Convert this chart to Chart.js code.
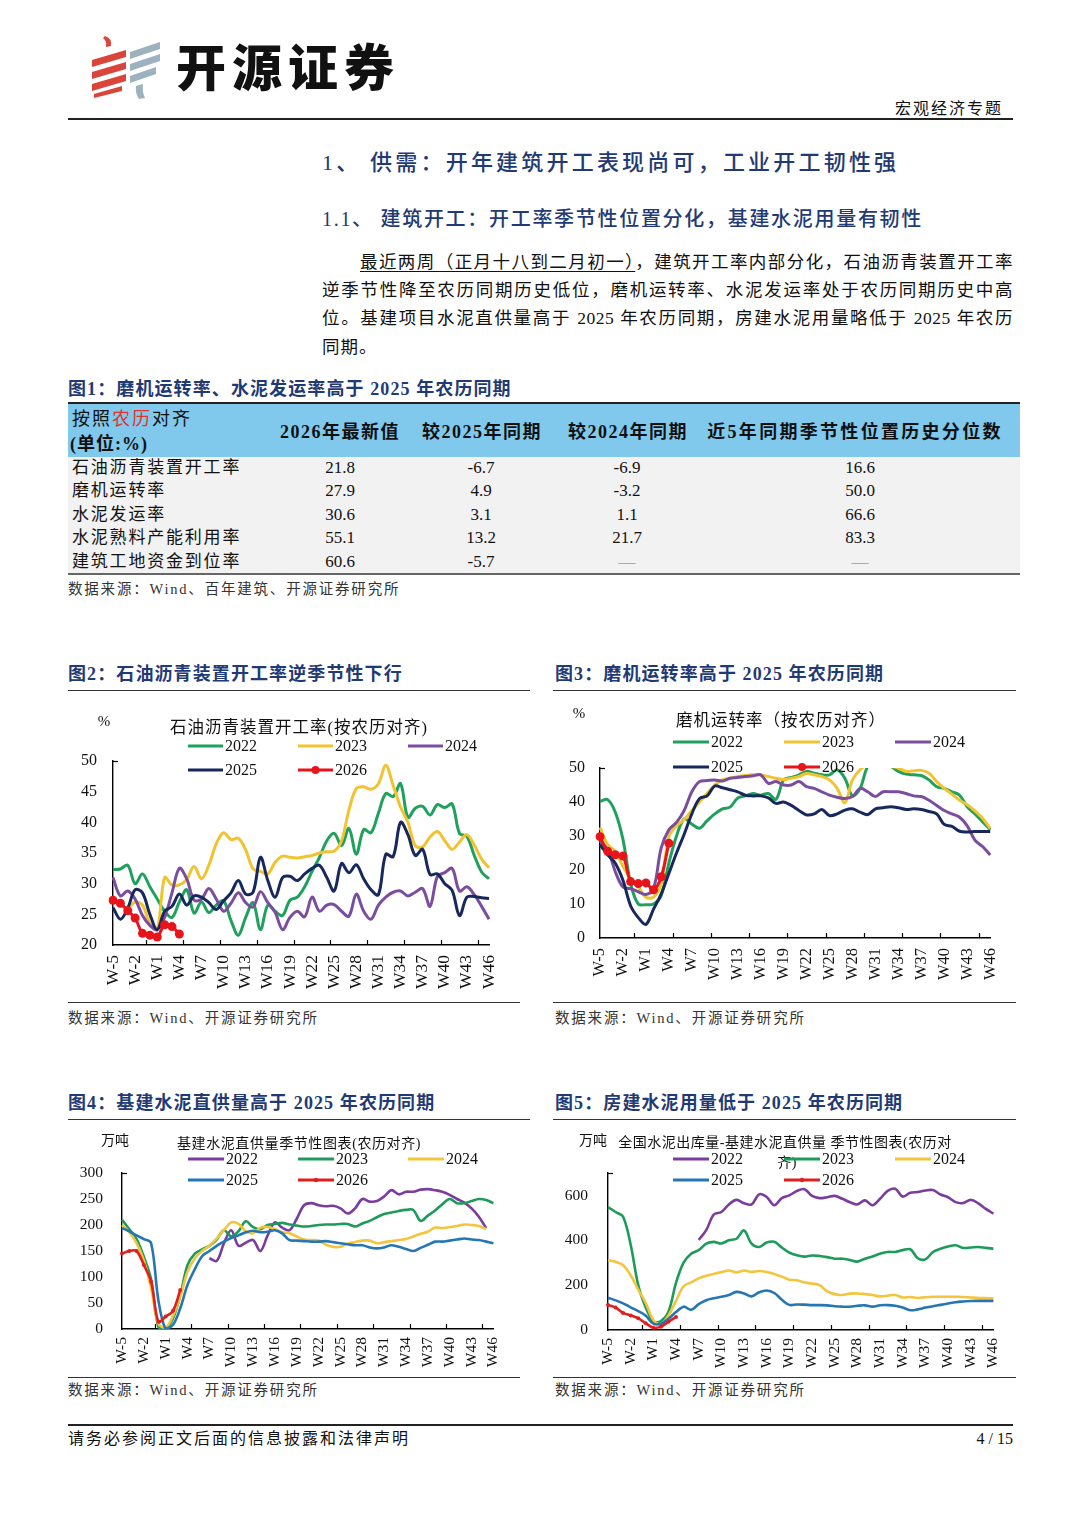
<!DOCTYPE html>
<html lang="zh-CN">
<head>
<meta charset="utf-8">
<title>开源证券 宏观经济专题</title>
<script src="https://cdn.jsdelivr.net/npm/chart.js@4.4.1/dist/chart.umd.min.js"></script>
<style>
html,body{margin:0;padding:0;background:#fff}
body{width:1080px;height:1527px;position:relative;overflow:hidden;font-family:"Liberation Serif","Noto Sans CJK SC",serif;color:#111}
.a{position:absolute;white-space:nowrap}
.figt{position:absolute;white-space:nowrap;font-size:18px;font-weight:bold;letter-spacing:1.1px;color:#1f3a75;line-height:24px}
.rule{position:absolute;height:1.5px;background:#333}
.src{position:absolute;white-space:nowrap;font-size:14.5px;letter-spacing:1.8px;color:#333;line-height:20px}
.para{position:absolute;left:322px;width:691px;font-size:17.5px;line-height:28px;text-align:justify;text-align-last:justify;white-space:nowrap;letter-spacing:0.5px}
.th{position:absolute;white-space:nowrap;font-size:18px;font-weight:bold;line-height:24px;letter-spacing:1.5px;transform:translateX(-50%)}
.tl{position:absolute;white-space:nowrap;font-size:17px;line-height:23px;letter-spacing:1.8px;left:72px}
.tv{position:absolute;white-space:nowrap;font-size:17px;line-height:23px;transform:translateX(-50%)}
.box{position:absolute}
</style>
</head>
<body>
<script>
// ---------------- DATA ----------------
const weeks = ['W-5','W-4','W-3','W-2','W-1','W0','W1','W2','W3','W4','W5','W6','W7','W8','W9','W10','W11','W12','W13','W14','W15','W16','W17','W18','W19','W20','W21','W22','W23','W24','W25','W26','W27','W28','W29','W30','W31','W32','W33','W34','W35','W36','W37','W38','W39','W40','W41','W42','W43','W44','W45','W46'];
const years = ['2022','2023','2024','2025','2026'];

// 图2 石油沥青装置开工率 (%)
const asph2022 = [32.3,32.4,33,30,31.6,29.5,27.5,25.5,24.5,27,29,25.2,27,25.3,26.5,27.2,24,21.6,24.5,26.9,22.5,26.5,25.5,24.8,27.3,27.8,29.5,32,34.3,37,38.2,36.2,39,34.8,38.8,38.3,41.5,44.7,44.2,46.3,40.8,42.3,42.6,41.2,42.9,42.4,43,38.2,37.7,34.6,31.9,30.8];
const asph2023 = [27.5,26.5,26,27,26.5,23.5,22.5,31,29.8,29.8,30.7,32.8,30.8,33,36.5,38.3,37.2,37.4,35.5,32.4,32,31.6,33.5,34.5,34.3,34.2,34.4,34.6,35,35.2,35.3,37,42,45.5,45.8,45.4,46.3,49.3,46,42.5,40,36.2,36,37.6,38.5,37,35.6,36.8,38,36.3,34,32.6];
const asph2024 = [31,28,28.8,27.5,24.8,23.2,22.5,24.5,28.5,32.5,30.8,27.3,27.5,29.2,27.5,25.5,26.8,28.5,26.9,26.2,28.7,26.9,25.3,22.5,24.5,25.5,24.6,27.8,25.5,26.5,26.6,25.5,24.7,28.3,25.5,24.2,26.5,27.8,28.6,28.8,28,28.6,29.2,26.3,31.2,31.8,32.5,28.8,29.5,28.2,26.3,24.2];
const asph2025 = [26.1,24.2,26,29,28.5,25,22.5,25.5,26.3,28.3,26.5,28,27.8,26.9,25.8,27.2,28.5,30.5,28.3,28.6,34.3,30.5,27.8,31,31.2,30.5,31.6,32.5,33,31,28.8,33.3,31.8,33.1,30.8,29,28.2,34.8,34.4,40,38,34.6,35.6,31.5,31.6,30,28.9,24.8,27.8,27.9,27.7,27.6];
const asph2026 = [27.3,26.8,25.6,24.4,21.9,21.6,21.3,23.3,23.0,21.8];

// 图3 磨机运转率 (%)
const mill2022 = [40.2,40.7,37,29,16,10,9.8,10,12.5,22,30,35,33.5,32.3,34.5,36.5,38,38.5,41.2,41.8,42.5,42,42.5,40.8,46.5,47.2,48,49,48.5,48,48,49.5,47,41.8,44,50.5,51.5,51,50.5,49,48.2,48,47.8,46.5,44.5,44,43,42,38.6,36.5,34.2,31.8];
const mill2023 = [32.5,27.5,25.5,21,17.5,15,12,12,16,29.8,33,34.8,37.5,40,42.5,45,46.5,47,47.5,47.8,48,48,47.5,47,46.6,47,47.5,48.4,48,47.5,46.5,44,39.8,46.5,49.5,51,51.5,51,50.5,50,49,49.2,49.3,48.5,46,44,42.3,40.5,39.2,37.4,35.2,32.2];
const mill2024 = [28.5,26,19.5,15,14.5,13.6,12.8,14.5,26.5,31.8,34,37.5,43,46,46.3,46.5,46.2,47,47.2,47.5,47.7,48,45.5,46,45,45,46,44.5,44,43,42,41.4,41,41.6,44,43,41.6,43,43,43,42.5,41.8,41.6,40.5,39,37.5,36.5,35.5,33,28.8,26.9,24.4];
const mill2025 = [27.5,24.5,22,17,9.5,6,4,8.5,13,19,25,30.5,36.5,41,41.8,44.7,44.2,43.6,43,42,41.8,41.8,41.2,39.6,40,39,37.5,36.2,36.5,37.8,36,36.5,37.6,38,37,36.3,38,38.3,38.6,38.3,37.8,38,37.8,37.2,36.5,33.4,32.8,31.4,31.2,31.3,31.3,31.3];
const mill2026 = [29.8,25.5,24.5,24.1,16.6,16,16.2,14.2,18,27.9];

// 图4 基建水泥直供量 (万吨)
const infra2022 = [null,null,null,null,null,null,null,null,null,null,null,null,136,131,165,190,160,166,171,150,180,205,195,190,212,238,242,238,236,237,232,222,232,250,245,246,255,267,259,264,264,268,269,267,264,258,250,243,232,216,194,null];
const infra2023 = [210,192,173,139,95,4,1,20,65,123,145,153,160,172,190,178,188,207,196,192,200,202,204,201,199,197,198,200,201,201,202,202,197,203,208,215,221,224,227,229,229,208,218,228,240,250,242,242,246,250,248,242];
const infra2024 = [200,186,165,132,78,10,3,25,62,110,136,150,160,174,190,205,202,188,184,195,196,192,186,184,178,172,171,170,162,158,158,164,167,170,170,165,167,169,171,173,178,183,187,195,194,196,198,201,200,198,192,null];
const infra2025 = [194,188,180,173,165,55,0,8,40,85,115,140,150,160,168,175,180,186,189,186,187,190,184,171,170,169,168,168,169,167,165,163,161,161,157,155,157,161,158,154,150,156,162,168,168,170,172,174,172,171,168,165];
const infra2026 = [145,150,150,123,91,14,24,35,75];

// 图5 房建水泥用量 (万吨)
const house2022 = [null,null,null,null,null,null,null,null,null,null,null,null,402,445,515,526,560,580,565,560,605,593,556,588,600,620,628,598,588,592,598,585,570,560,578,556,585,620,630,595,612,615,622,624,604,592,570,566,580,565,540,519];
const house2023 = [548,526,505,380,200,100,38,40,81,210,300,340,356,385,393,386,400,407,444,385,370,390,393,368,345,333,327,332,330,325,318,318,312,305,318,328,340,348,348,356,360,320,315,348,362,372,378,366,368,370,366,363];
const house2024 = [311,304,289,244,180,120,45,25,65,130,195,212,230,242,250,258,265,257,265,259,263,259,250,238,224,222,212,207,200,172,160,156,162,163,160,156,150,153,156,145,147,143,146,148,148,148,148,147,145,143,142,141];
const house2025 = [144,132,119,101,84,64,28,28,50,80,104,90,115,133,142,148,156,170,163,150,168,176,165,135,112,114,113,111,111,110,106,104,104,108,110,104,110,111,108,100,88,92,100,106,112,118,124,127,129,130,130,130];
const house2026 = [111,100,76,65,52,30,10,15,37,58];

// ---------------- CHARTS ----------------
const SERIF = '"Liberation Serif", "Noto Sans CJK SC", serif';
Chart.defaults.font.family = SERIF;
Chart.defaults.color = '#111';

const decoPlugin = {
  id: 'deco',
  afterDraw(chart, args, o) {
    const ctx = chart.ctx;
    const xs = chart.scales.x, ys = chart.scales.y;
    ctx.save();
    // small inside tick marks on the category axis
    ctx.strokeStyle = '#000'; ctx.lineWidth = 1.2;
    for (let v = o.tickStart; v < weeks.length - 1; v += o.tickStep) {
      const px = Math.round(xs.getPixelForValue(v)) + 0.5;
      ctx.beginPath(); ctx.moveTo(px, ys.bottom); ctx.lineTo(px, ys.bottom - 5); ctx.stroke();
    }
    // cap tick at top of value axis
    ctx.beginPath(); ctx.moveTo(xs.left, ys.top + 0.5); ctx.lineTo(xs.left + 5, ys.top + 0.5); ctx.stroke();
    // unit
    ctx.fillStyle = '#111'; ctx.textAlign = 'center'; ctx.textBaseline = 'middle';
    ctx.font = o.unit.font; ctx.fillText(o.unit.text, o.unit.x, o.unit.y);
    // title
    ctx.font = o.title.font;
    try { ctx.letterSpacing = o.title.ls || '0px'; } catch (e) {}
    o.title.lines.forEach(l => ctx.fillText(l.text, l.x, l.y));
    try { ctx.letterSpacing = '0px'; } catch (e) {}
    // legend (3 per row)
    const L = o.legend;
    chart.data.datasets.forEach((ds, i) => {
      const col = i % 3, row = Math.floor(i / 3);
      const x = L.x + col * L.colW, y = L.y + row * L.rowH;
      ctx.strokeStyle = ds.borderColor; ctx.lineWidth = L.lw;
      ctx.beginPath(); ctx.moveTo(x, y); ctx.lineTo(x + L.len, y); ctx.stroke();
      if (ds.pointRadius > 0) {
        ctx.fillStyle = ds.borderColor; ctx.beginPath();
        ctx.arc(x + L.len / 2, y, L.dot, 0, Math.PI * 2); ctx.fill();
      }
      ctx.fillStyle = '#111'; ctx.font = L.font; ctx.textAlign = 'left'; ctx.textBaseline = 'middle';
      ctx.fillText(ds.label, x + L.len + 2, y + 1);
    });
    ctx.restore();
  }
};

function seasonal(id, c) {
  const datasets = c.series.map((s, i) => ({
    label: years[i], data: s,
    borderColor: c.colors[i], backgroundColor: c.colors[i],
    borderWidth: c.lw, pointRadius: i === 4 ? c.dot : 0, pointHoverRadius: 0,
    pointBorderWidth: 0, pointStyle: 'circle',
    tension: 0.35, fill: false, order: 4 - i
  }));
  return new Chart(document.getElementById(id), {
    type: 'line',
    data: { labels: weeks, datasets },
    options: {
      responsive: false, animation: false, devicePixelRatio: 1,
      events: [],
      layout: { padding: c.pad },
      plugins: { legend: { display: false }, tooltip: { enabled: false }, deco: c.deco },
      scales: {
        x: {
          type: 'category', offset: false,
          grid: { display: false, drawTicks: false },
          border: { display: true, color: '#000', width: 1.4 },
          ticks: {
            autoSkip: false, minRotation: 90, maxRotation: 90, padding: c.xpad,
            color: '#111', font: { family: SERIF, size: c.xfs },
            callback: (v, i) => (i % 3 === 0 ? weeks[i] : null)
          },
          afterFit: s => { s.height = c.xh; }
        },
        y: {
          min: c.min, max: c.max,
          grid: { display: false, drawTicks: false },
          border: { display: true, color: '#000', width: 1.4 },
          ticks: { stepSize: c.step, includeBounds: false, padding: c.ypad, color: '#111', font: { family: SERIF, size: c.yfs } },
          afterFit: s => { s.width = c.yw; }
        }
      }
    },
    plugins: [decoPlugin]
  });
}

const colA = ['#1fa05c', '#f2c331', '#7b4d9f', '#17285c', '#e8141c'];
const colB = ['#7a3d9d', '#1c9b5a', '#f3c53c', '#2576b3', '#e01f1f'];
</script>

<!-- ============ HEADER ============ -->
<svg class="a" style="left:86px;top:30px" width="80" height="70" viewBox="0 0 80 70">
  <path d="M19 6 q7 2 6 10 l-5 1 q1-6-3-9z" fill="#d9453a"/>
  <polygon points="6,30 40,20 40,27 6,37" fill="#d9453a"/>
  <polygon points="6,42 40,32 40,39 6,49" fill="#d9453a"/>
  <polygon points="6,54 40,44 40,51 6,61" fill="#d9453a"/>
  <polygon points="8,64 36,56 36,61 8,68" fill="#d9453a"/>
  <polygon points="44,22 74,12 74,19 44,29" fill="#9db2be"/>
  <polygon points="44,34 74,24 74,31 44,41" fill="#9db2be"/>
  <polygon points="44,46 70,37 70,44 44,53" fill="#9db2be"/>
  <path d="M50 56 l7 -2 q-1 8 2 14 l-6 1 q-4-6-3-13z" fill="#9db2be"/>
</svg>
<div class="a" style="left:176px;top:30px;font-family:'Noto Sans CJK SC',sans-serif;font-weight:900;font-size:50px;line-height:68px;letter-spacing:6px;color:#111">开源证券</div>
<div class="a" style="right:77px;top:97px;font-size:16px;line-height:24px;letter-spacing:2px">宏观经济专题</div>
<div class="rule" style="left:68px;top:118px;width:945px;height:1.6px;background:#222"></div>

<!-- ============ HEADINGS & TEXT ============ -->
<div class="a" style="left:322px;top:148px;font-size:22px;line-height:30px;letter-spacing:3.2px;color:#1f3a75;font-weight:500">1、 供需：开年建筑开工表现尚可，工业开工韧性强</div>
<div class="a" style="left:322px;top:205px;font-size:20px;line-height:28px;letter-spacing:1.7px;color:#1f3a75;font-weight:500">1.1、 建筑开工：开工率季节性位置分化，基建水泥用量有韧性</div>
<div class="para" style="left:360px;width:653px;top:248px"><span style="text-decoration:underline;text-underline-offset:3px">最近两周（正月十八到二月初一）</span>，建筑开工率内部分化，石油沥青装置开工率</div>
<div class="para" style="top:276px">逆季节性降至农历同期历史低位，磨机运转率、水泥发运率处于农历同期历史中高</div>
<div class="para" style="top:304px">位。基建项目水泥直供量高于 2025 年农历同期，房建水泥用量略低于 2025 年农历</div>
<div class="a" style="left:322px;top:333px;font-size:17.5px;line-height:28px;letter-spacing:1px">同期。</div>

<!-- ============ TABLE (图1) ============ -->
<div class="figt" style="left:68px;top:377px">图1：磨机运转率、水泥发运率高于 2025 年农历同期</div>
<div class="box" style="left:68px;top:404px;width:952px;height:53px;background:#80c8ec"></div>
<div class="box" style="left:68px;top:457px;width:952px;height:117px;background:#f2f2f2"></div>
<div class="rule" style="left:68px;top:402px;width:952px;height:2px;background:#222"></div>
<div class="rule" style="left:68px;top:573px;width:952px;height:2px;background:#666"></div>
<div class="a" style="left:72px;top:407px;font-size:18px;line-height:24px;letter-spacing:2px">按照<span style="color:#e0332e">农历</span>对齐</div>
<div class="a" style="left:70px;top:432px;font-size:18px;line-height:24px;font-weight:bold;letter-spacing:1px">(单位:%)</div>
<div class="th" style="left:340px;top:420px">2026年最新值</div>
<div class="th" style="left:482px;top:420px">较2025年同期</div>
<div class="th" style="left:628px;top:420px">较2024年同期</div>
<div class="th" style="left:855px;top:420px;letter-spacing:2.3px">近5年同期季节性位置历史分位数</div>

<div class="tl" style="top:456px">石油沥青装置开工率</div>
<div class="tv" style="left:340px;top:456px">21.8</div><div class="tv" style="left:481px;top:456px">-6.7</div><div class="tv" style="left:627px;top:456px">-6.9</div><div class="tv" style="left:860px;top:456px">16.6</div>
<div class="tl" style="top:479px">磨机运转率</div>
<div class="tv" style="left:340px;top:479px">27.9</div><div class="tv" style="left:481px;top:479px">4.9</div><div class="tv" style="left:627px;top:479px">-3.2</div><div class="tv" style="left:860px;top:479px">50.0</div>
<div class="tl" style="top:503px">水泥发运率</div>
<div class="tv" style="left:340px;top:503px">30.6</div><div class="tv" style="left:481px;top:503px">3.1</div><div class="tv" style="left:627px;top:503px">1.1</div><div class="tv" style="left:860px;top:503px">66.6</div>
<div class="tl" style="top:526px">水泥熟料产能利用率</div>
<div class="tv" style="left:340px;top:526px">55.1</div><div class="tv" style="left:481px;top:526px">13.2</div><div class="tv" style="left:627px;top:526px">21.7</div><div class="tv" style="left:860px;top:526px">83.3</div>
<div class="tl" style="top:550px">建筑工地资金到位率</div>
<div class="tv" style="left:340px;top:550px">60.6</div><div class="tv" style="left:481px;top:550px">-5.7</div><div class="tv" style="left:627px;top:550px;color:#aaa">—</div><div class="tv" style="left:860px;top:550px;color:#aaa">—</div>
<div class="src" style="left:68px;top:579px">数据来源：Wind、百年建筑、开源证券研究所</div>

<!-- ============ FIGURE TITLES ============ -->
<div class="figt" style="left:68px;top:662px">图2：石油沥青装置开工率逆季节性下行</div>
<div class="rule" style="left:68px;top:690px;width:462px;height:1.3px"></div>
<div class="figt" style="left:555px;top:662px">图3：磨机运转率高于 2025 年农历同期</div>
<div class="rule" style="left:553px;top:690px;width:463px;height:1.3px"></div>
<div class="rule" style="left:68px;top:1002px;width:452px;height:1.3px"></div>
<div class="rule" style="left:553px;top:1002px;width:463px;height:1.3px"></div>
<div class="src" style="left:68px;top:1008px">数据来源：Wind、开源证券研究所</div>
<div class="src" style="left:555px;top:1008px">数据来源：Wind、开源证券研究所</div>

<div class="figt" style="left:68px;top:1091px">图4：基建水泥直供量高于 2025 年农历同期</div>
<div class="rule" style="left:68px;top:1119px;width:462px;height:1.3px"></div>
<div class="figt" style="left:555px;top:1091px">图5：房建水泥用量低于 2025 年农历同期</div>
<div class="rule" style="left:553px;top:1119px;width:463px;height:1.3px"></div>
<div class="rule" style="left:68px;top:1377px;width:452px;height:1.3px"></div>
<div class="rule" style="left:553px;top:1377px;width:463px;height:1.3px"></div>
<div class="src" style="left:68px;top:1380px">数据来源：Wind、开源证券研究所</div>
<div class="src" style="left:555px;top:1380px">数据来源：Wind、开源证券研究所</div>

<!-- ============ CANVASES ============ -->
<div class="box" style="left:68px;top:695px;width:452px;height:305px"><canvas id="c2" width="452" height="305"></canvas></div>
<div class="box" style="left:553px;top:695px;width:467px;height:305px"><canvas id="c3" width="467" height="305"></canvas></div>
<div class="box" style="left:68px;top:1122px;width:452px;height:253px"><canvas id="c4" width="452" height="253"></canvas></div>
<div class="box" style="left:553px;top:1122px;width:467px;height:253px"><canvas id="c5" width="467" height="253"></canvas></div>

<!-- ============ FOOTER ============ -->
<div class="rule" style="left:68px;top:1424px;width:945px;height:1.6px;background:#222"></div>
<div class="a" style="left:68px;top:1427px;font-size:16px;line-height:24px;letter-spacing:2px">请务必参阅正文后面的信息披露和法律声明</div>
<div class="a" style="right:67px;top:1427px;font-size:16px;line-height:24px">4 / 15</div>

<script>
const TFONT = '16.5px ' + SERIF;
seasonal('c2', {
  series: [asph2022, asph2023, asph2024, asph2025, asph2026], colors: colA, lw: 3, dot: 4.5,
  min: 20, max: 50, step: 5,
  pad: { top: 66, left: 0, right: 9, bottom: 0 }, yw: 45, xh: 55, xpad: 10, ypad: 16, xfs: 17.5, yfs: 16,
  deco: {
    tickStart: 4.5, tickStep: 5,
    unit: { text: '%', x: 36, y: 27, font: '15px ' + SERIF },
    title: { font: TFONT, ls: '1px', lines: [{ text: '石油沥青装置开工率(按农历对齐)', x: 231, y: 34 }] },
    legend: { x: 120, y: 51, colW: 110, rowH: 24, len: 35, lw: 3, dot: 4, font: '16px ' + SERIF }
  }
});
seasonal('c3', {
  series: [mill2022, mill2023, mill2024, mill2025, mill2026], colors: colA, lw: 3, dot: 4.5,
  min: 0, max: 50, step: 10,
  pad: { top: 73, left: 0, right: 24, bottom: 0 }, yw: 47, xh: 62, xpad: 10, ypad: 15, xfs: 16.5, yfs: 16,
  deco: {
    tickStart: 4.5, tickStep: 5,
    unit: { text: '%', x: 26, y: 19, font: '15px ' + SERIF },
    title: { font: TFONT, ls: '1px', lines: [{ text: '磨机运转率（按农历对齐）', x: 228, y: 27 }] },
    legend: { x: 120, y: 47, colW: 111, rowH: 25, len: 36, lw: 3, dot: 4, font: '16px ' + SERIF }
  }
});
seasonal('c4', {
  series: [infra2022, infra2023, infra2024, infra2025, infra2026], colors: colB, lw: 2.6, dot: 2,
  min: 0, max: 300, step: 50,
  pad: { top: 51, left: 0, right: 9, bottom: 0 }, yw: 54, xh: 46, xpad: 8, ypad: 19, xfs: 15.5, yfs: 15.5,
  deco: {
    tickStart: 4.5, tickStep: 5,
    unit: { text: '万吨', x: 47, y: 19, font: '14px ' + SERIF },
    title: { font: '14px ' + SERIF, ls: '0.6px', lines: [{ text: '基建水泥直供量季节性图表(农历对齐)', x: 231, y: 22 }] },
    legend: { x: 120, y: 37, colW: 110, rowH: 21, len: 36, lw: 3, dot: 2.2, font: '16px ' + SERIF }
  }
});
seasonal('c5', {
  series: [house2022, house2023, house2024, house2025, house2026], colors: colB, lw: 2.6, dot: 2,
  min: 0, max: 700, step: 200,
  pad: { top: 51, left: 0, right: 22, bottom: 0 }, yw: 55, xh: 45, xpad: 8, ypad: 20, xfs: 15.5, yfs: 15.5,
  deco: {
    tickStart: 4.5, tickStep: 5,
    unit: { text: '万吨', x: 40, y: 19, font: '14px ' + SERIF },
    title: { font: '14px ' + SERIF, ls: '0.5px', lines: [
      { text: '全国水泥出库量-基建水泥直供量 季节性图表(农历对', x: 232, y: 21 },
      { text: '齐)', x: 234, y: 41 } ] },
    legend: { x: 120, y: 37, colW: 111, rowH: 21, len: 36, lw: 3, dot: 2.2, font: '16px ' + SERIF }
  }
});
</script>
</body>
</html>
